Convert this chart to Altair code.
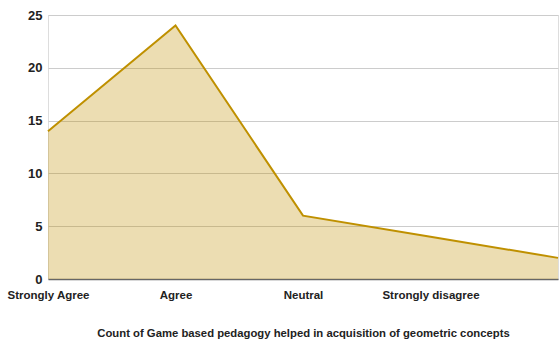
import altair as alt
import pandas as pd

# Survey responses: how many respondents chose each option
responses = ["Strongly Agree", "Agree", "Neutral", "Strongly disagree", "Disagree"]
counts = [14, 24, 6, 4, 2]

df = pd.DataFrame({"response": responses, "count": counts})

FONT = "Liberation Sans"

x = alt.X(
    "response:N",
    sort=responses,
    scale=alt.Scale(type="point", padding=0),
    axis=alt.Axis(
        title="Count of Game based pedagogy helped in acquisition of geometric concepts",
        labelAngle=0,
        labelExpr="datum.value == 'Disagree' ? '' : datum.label",
        labelFont=FONT,
        labelFontWeight="bold",
        labelFontSize=11.5,
        labelColor="#222222",
        labelPadding=10,
        ticks=False,
        domainColor="#666666",
        domainWidth=1.5,
        titleFont=FONT,
        titleFontWeight="bold",
        titleFontSize=11.3,
        titleColor="#222222",
        titlePadding=27,
    ),
)
y = alt.Y(
    "count:Q",
    scale=alt.Scale(domain=[0, 25]),
    axis=alt.Axis(
        title=None,
        values=[0, 5, 10, 15, 20, 25],
        labelFont=FONT,
        labelFontWeight="bold",
        labelFontSize=13,
        labelColor="#222222",
        labelPadding=6,
        ticks=False,
        domain=False,
        gridColor="#cccccc",
    ),
)

area = alt.Chart(df).mark_area(color="#bf9000", opacity=0.3).encode(x=x, y=y)
line = alt.Chart(df).mark_line(color="#bf9000", strokeWidth=2).encode(x=x, y=y)

chart = (
    alt.layer(area, line)
    .properties(
        width=510,
        height=264,
        autosize=alt.AutoSizeParams(type="none"),
        padding={"left": 48, "top": 15, "right": 1, "bottom": 65},
    )
    .configure_view(stroke=None)
    .configure(background="white")
)

chart.save("out.html", embed_options={"renderer": "svg", "actions": False})
